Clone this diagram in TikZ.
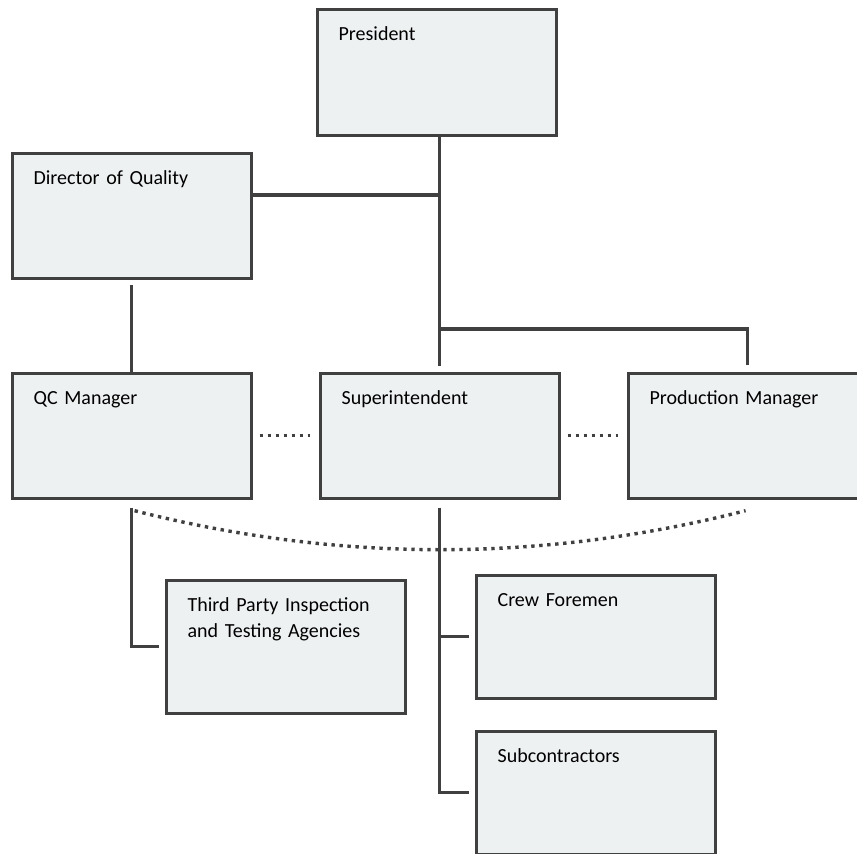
\documentclass[tikz,border=0pt]{standalone}
\usepackage{fontspec}
\setmainfont{Carlito}
\usetikzlibrary{calc}
\definecolor{linegray}{RGB}{64,64,64}
\definecolor{boxfill}{RGB}{238,241,242}

\begin{document}
\begin{tikzpicture}[
    x=1pt,
    y=1pt,
    yscale=-1,
    post/.style={draw=linegray, line width=3.2pt, fill=boxfill, anchor=north west,
        font=\fontsize{20pt}{26pt}\selectfont, minimum width=239pt, text width=196pt,
        align=left, inner xsep=21.5pt, inner ysep=13.3pt, text height=18.2pt, text depth=80.2pt},
    link/.style={draw=linegray, line width=3.2pt},
    loose/.style={draw=linegray, line width=3.4pt, dash pattern=on 3.4pt off 4.6pt}
]
    \useasboundingbox (0,0) rectangle (857,854);
    \clip (0,0) rectangle (857,854);

    \node[post, text depth=81.2pt] (pres) at (315.5,7.5) {President};
    \node[post] (dir) at (10.5,151.5) {Director of Quality};

    \node[post] (qc) at (10.5,371.5) {QC Manager};
    \node[post] (sup) at (318.5,371.5) {Superintendent};
    \node[post] (prod) at (626.5,371.5) {Production Manager};

    \node[post, text depth=88.2pt] (third) at (164.5,578.5) {Third Party Inspection\\and Testing Agencies};
    \node[post, text depth=78.2pt] (crew) at (474.5,573.5) {Crew Foremen};
    \node[post, text depth=78.2pt] (sub) at (474.5,729.5) {Subcontractors};

    % solid lines of report
    \coordinate (jd) at (438,195);
    \coordinate (jp) at (438,329);
    \draw[link, shorten >=6pt] (pres.south -| sup.north) -- (sup.north);
    \draw[link] (dir.east |- jd) -- (jd);
    \draw[link, shorten >=7pt] (jp) -| (prod.north);
    \draw[link, shorten <=5pt] (dir.south) -- (qc.north);
    \draw[link, shorten <=8pt, shorten >=6pt] (qc.south) |- (third.west);
    \draw[link, shorten <=8pt, shorten >=6pt] (sup.south) |- (sub.west);
    \draw[link, shorten >=6pt] (sup.south |- crew.west) -- (crew.west);

    % dotted coordination
    \draw[loose, shorten <=7pt, shorten >=9pt] (qc.east) -- (sup.west);
    \draw[loose, shorten <=7pt, shorten >=9pt] (sup.east) -- (prod.west);
    \draw[loose] ($(qc.south)+(3,11)$) .. controls +(204,52) and +(-204,52) .. ($(prod.south)+(-2,11)$);
\end{tikzpicture}
\end{document}
